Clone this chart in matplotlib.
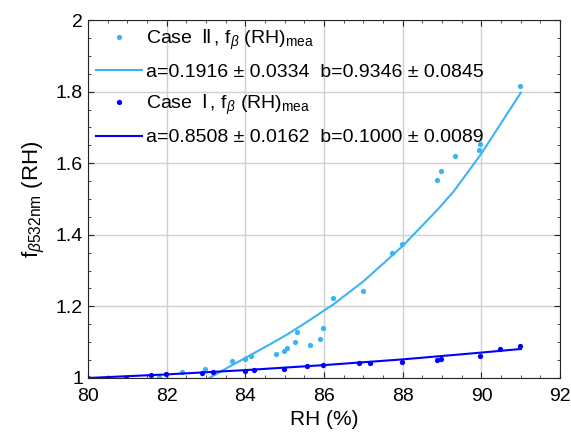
import matplotlib.pyplot as plt
from matplotlib.ticker import MultipleLocator

plt.rcParams['font.family'] = ['Liberation Sans', 'DejaVu Sans']
plt.rcParams['mathtext.fontset'] = 'custom'
plt.rcParams['mathtext.rm'] = 'Liberation Sans'
plt.rcParams['mathtext.it'] = 'Liberation Sans:italic'
plt.rcParams['mathtext.sf'] = 'Noto Sans CJK SC'

# Case II measured points
rh2 = [81.81, 82.40, 82.98, 83.65, 83.98, 84.14, 84.77, 84.98, 85.07, 85.27, 85.31,
       85.64, 85.89, 85.98, 86.23, 86.98, 87.72, 87.97, 88.87, 88.98, 89.32, 89.93,
       89.97, 90.98]
f2 = [1.004, 1.018, 1.024, 1.047, 1.054, 1.061, 1.067, 1.074, 1.083, 1.100, 1.129,
      1.091, 1.108, 1.140, 1.224, 1.243, 1.350, 1.374, 1.554, 1.578, 1.619, 1.638,
      1.654, 1.817]
# Case II fit line
rh2_fit = [83.0, 83.65, 84.0, 84.77, 85.07, 85.3, 85.64, 85.98, 86.23, 87.0, 87.72,
           88.0, 88.9, 89.3, 90.0, 91.0]
f2_fit = [0.995, 1.035, 1.056, 1.103, 1.122, 1.138, 1.162, 1.187, 1.205, 1.270,
          1.341, 1.369, 1.472, 1.522, 1.627, 1.797]

# Case I measured points
rh1 = [80.0, 80.98, 81.60, 81.98, 82.90, 83.18, 83.98, 84.23, 84.98, 85.56, 85.97,
       86.88, 87.18, 87.97, 88.87, 88.98, 89.97, 90.48, 90.98]
f1 = [1.000, 1.000, 1.008, 1.011, 1.013, 1.016, 1.019, 1.023, 1.026, 1.034, 1.036,
      1.041, 1.043, 1.045, 1.051, 1.053, 1.062, 1.082, 1.090]
# Case I fit line
rh1_fit = [80.0, 82.0, 84.0, 86.0, 88.0, 90.0, 91.0]
f1_fit = [1.000, 1.010, 1.022, 1.036, 1.052, 1.071, 1.081]

c_light = '#3db4f2'
c_dark = '#0000ff'

fig = plt.figure(figsize=(5.71, 4.45), dpi=100)
ax = fig.add_axes([0.154, 0.1506, 0.827, 0.8044])

ax.plot(rh2, f2, 'o', color=c_light, ms=3.8, mec='none',
        label=r'Case $\;\mathsf{Ⅱ}\,$, f$_\beta$ (RH)$_{\rm mea}$')
ax.plot(rh2_fit, f2_fit, '-', color=c_light, lw=1.5,
        label='a=0.1916 ± 0.0334  b=0.9346 ± 0.0845')
ax.plot(rh1, f1, 'o', color=c_dark, ms=3.8, mec='none',
        label=r'Case $\;\mathsf{Ⅰ}\,$, f$_\beta$ (RH)$_{\rm mea}$')
ax.plot(rh1_fit, f1_fit, '-', color=c_dark, lw=1.5,
        label='a=0.8508 ± 0.0162  b=0.1000 ± 0.0089')

ax.set_xlim(80, 92)
ax.set_ylim(1, 2)
ax.xaxis.set_major_locator(MultipleLocator(2))
ax.xaxis.set_minor_locator(MultipleLocator(0.5))
ax.yaxis.set_minor_locator(MultipleLocator(0.05))
ax.set_yticks([1, 1.2, 1.4, 1.6, 1.8, 2])
ax.set_yticklabels(['1', '1.2', '1.4', '1.6', '1.8', '2'])
ax.grid(True, which='major', color='#d0d0d0', lw=1)
ax.set_axisbelow(True)
ax.tick_params(which='both', direction='in', top=True, right=True,
               labelsize=14, color='#262626')
ax.tick_params(which='major', length=4)
ax.tick_params(which='minor', length=2.5)
ax.tick_params(axis='x', which='major', pad=7)
for s in ax.spines.values():
    s.set_color('#262626')

ax.set_xlabel('RH (%)', fontsize=15, labelpad=4)
ax.set_ylabel(r'f$_{\beta{\rm 532nm}}$ (RH)', fontsize=16, labelpad=6)

ax.legend(loc='upper left', frameon=False, fontsize=14, labelspacing=0.6,
          handlelength=2.4, handletextpad=0.2, borderaxespad=0.1,
          borderpad=0.3)

fig.savefig('out.png', dpi=100)
